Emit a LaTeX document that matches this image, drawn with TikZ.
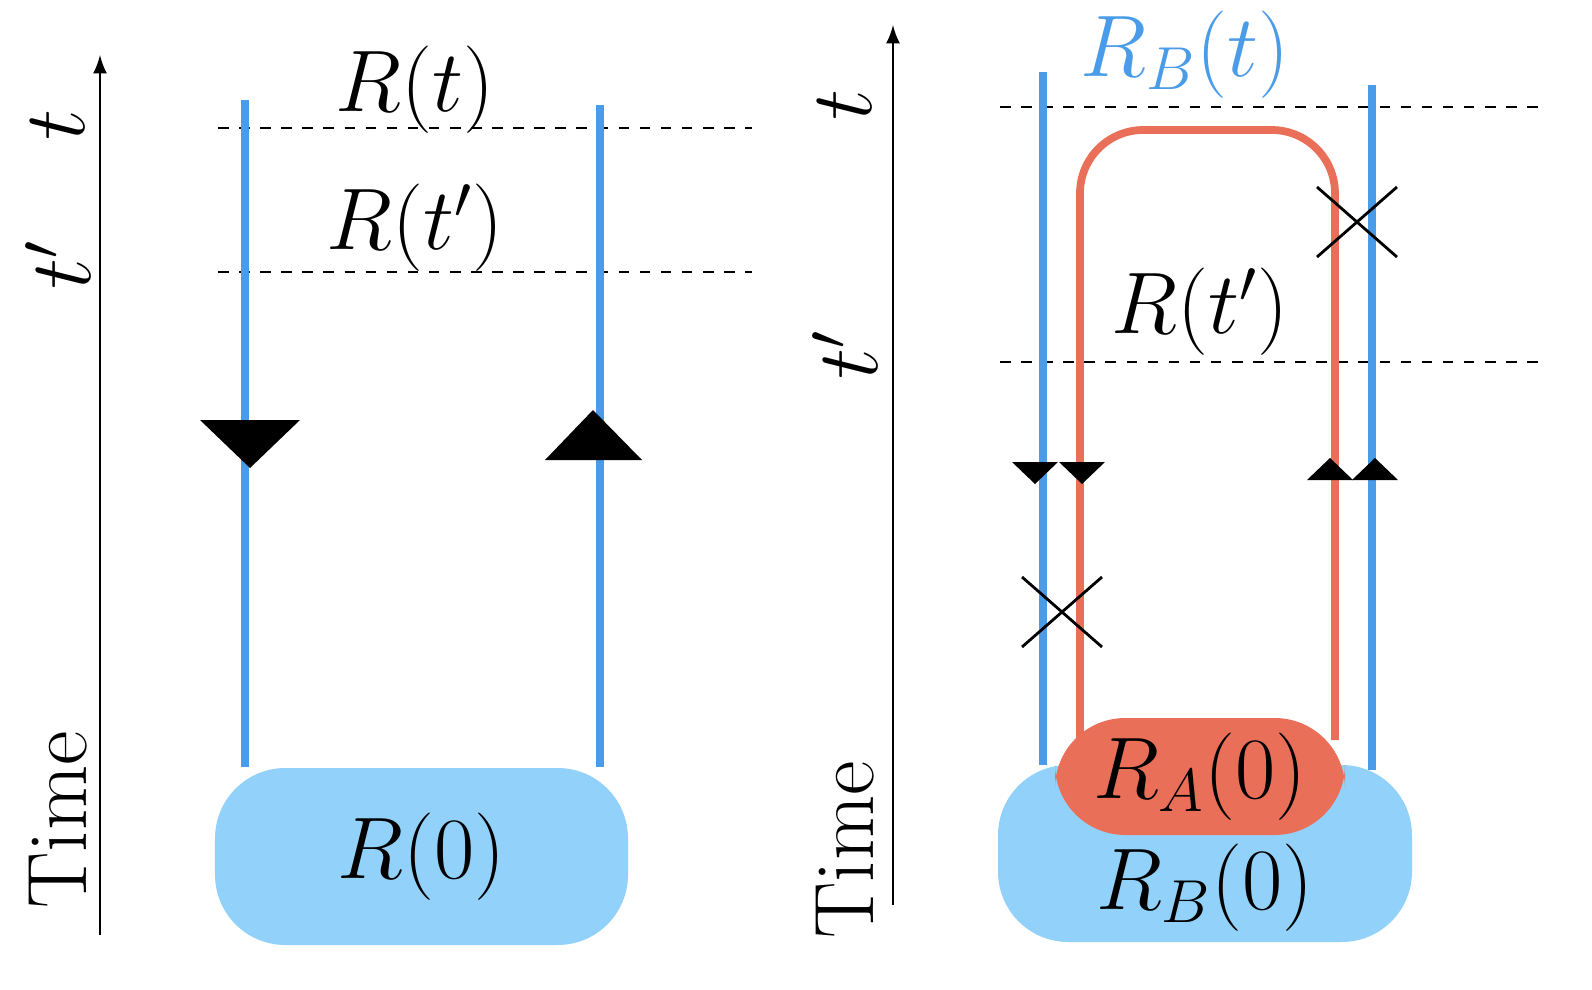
\documentclass[tikz,border=0pt]{standalone}
\usepackage{amsmath}
\usetikzlibrary{positioning}
\definecolor{lineblue}{HTML}{4A9BE8}
\definecolor{boxblue}{HTML}{92D2FA}
\definecolor{boxred}{HTML}{EA6F58}
\begin{document}
\begin{tikzpicture}[x=1cm,y=-1cm]
    \tikzstyle{axis}=[thick,-latex]
    \tikzstyle{wire}=[lineblue,line width=2.2pt]
    \tikzstyle{cut}=[thick,dash pattern=on 3pt off 3pt]
    \tikzstyle{lbl}=[font=\fontsize{25}{30}\selectfont]
    \tikzstyle{side}=[font=\fontsize{24}{28}\selectfont,rotate=90]
    \useasboundingbox (0,0) rectangle (15.92,9.9);

    % left panel
    \coordinate (a0) at (1.00,9.35); \coordinate (a1) at (1.00,0.55);
    \draw[axis] (a0) -- (a1);
    \node[side] (time1) at (0.58,8.2) {Time};
    \node[side] (t1) at (0.58,1.25) {$t$};
    \node[side] (tp1) at (0.58,2.65) {$t'$};
    \node[lbl] (rt) at (4.15,0.9) {$R(t)$};
    \node[lbl] (rtp) at (4.15,2.28) {$R(t')$};
    \coordinate (c1l) at (2.18,1.28); \coordinate (c1r) at (7.52,1.28);
    \coordinate (c2l) at (2.18,2.72); \coordinate (c2r) at (7.52,2.72);
    \draw[cut] (c1l) -- (c1r);
    \draw[cut] (c2l) -- (c2r);
    \node[fill=boxblue,rounded corners=20pt,minimum width=4.13cm,minimum height=1.77cm,lbl] (r0) at (4.215,8.565) {$R(0)$};
    \coordinate (w1t) at (2.45,1.0); \coordinate (w2t) at (6.0,1.05);
    \draw[wire] (w1t) -- (w1t |- r0.north);
    \draw[wire] (w2t) -- (w2t |- r0.north);
    \fill (2.0,4.2) -- (3.0,4.2) -- (2.5,4.68) -- cycle;
    \fill (5.45,4.6) -- (6.42,4.6) -- (5.93,4.1) -- cycle;

    % right panel
    \coordinate (b0) at (8.93,9.05); \coordinate (b1) at (8.93,0.25);
    \draw[axis] (b0) -- (b1);
    \node[side] (time2) at (8.45,8.5) {Time};
    \node[side] (t2) at (8.45,1.05) {$t$};
    \node[side] (tp2) at (8.45,3.55) {$t'$};
    \node[lbl,lineblue] (rbt) at (11.85,0.55) {$R_B(t)$};
    \node[lbl] (rtp2) at (12.0,3.12) {$R(t')$};
    \coordinate (d1l) at (10.0,1.07); \coordinate (d1r) at (15.4,1.07);
    \coordinate (d2l) at (10.0,3.62); \coordinate (d2r) at (15.4,3.62);
    \draw[cut] (d1l) -- (d1r);
    \draw[cut] (d2l) -- (d2r);
    \node[fill=boxblue,rounded corners=20pt,minimum width=4.14cm,minimum height=1.77cm] (rb0) at (12.05,8.535) {};
    \node[lbl] (rb0l) at (12.05,8.88) {$R_B(0)$};
    \draw[boxred,line width=2.2pt,rounded corners=18pt] (10.8,7.4) -- (10.8,1.3) -- (13.35,1.3) -- (13.35,7.4);
    \node[fill=boxred,rounded corners=20pt,minimum width=2.9cm,minimum height=1.17cm,lbl] (ra0) at (12.0,7.765) {$R_A(0)$};
    \coordinate (w3t) at (10.43,0.72); \coordinate (w4t) at (13.72,0.85);
    \draw[wire] (w3t) -- (10.43,7.65);
    \draw[wire] (w4t) -- (13.72,7.7);
    \draw[thick] (13.17,1.87) -- (13.97,2.57) (13.17,2.57) -- (13.97,1.87);
    \draw[thick] (10.22,5.77) -- (11.02,6.47) (10.22,6.47) -- (11.02,5.77);
    \foreach \x in {10.35,10.82} {
        \fill (\x-0.23,4.62) -- (\x+0.23,4.62) -- (\x,4.84) -- cycle;
    }
    \foreach \x in {13.3,13.75} {
        \fill (\x-0.23,4.8) -- (\x+0.23,4.8) -- (\x,4.58) -- cycle;
    }
\end{tikzpicture}
\end{document}
